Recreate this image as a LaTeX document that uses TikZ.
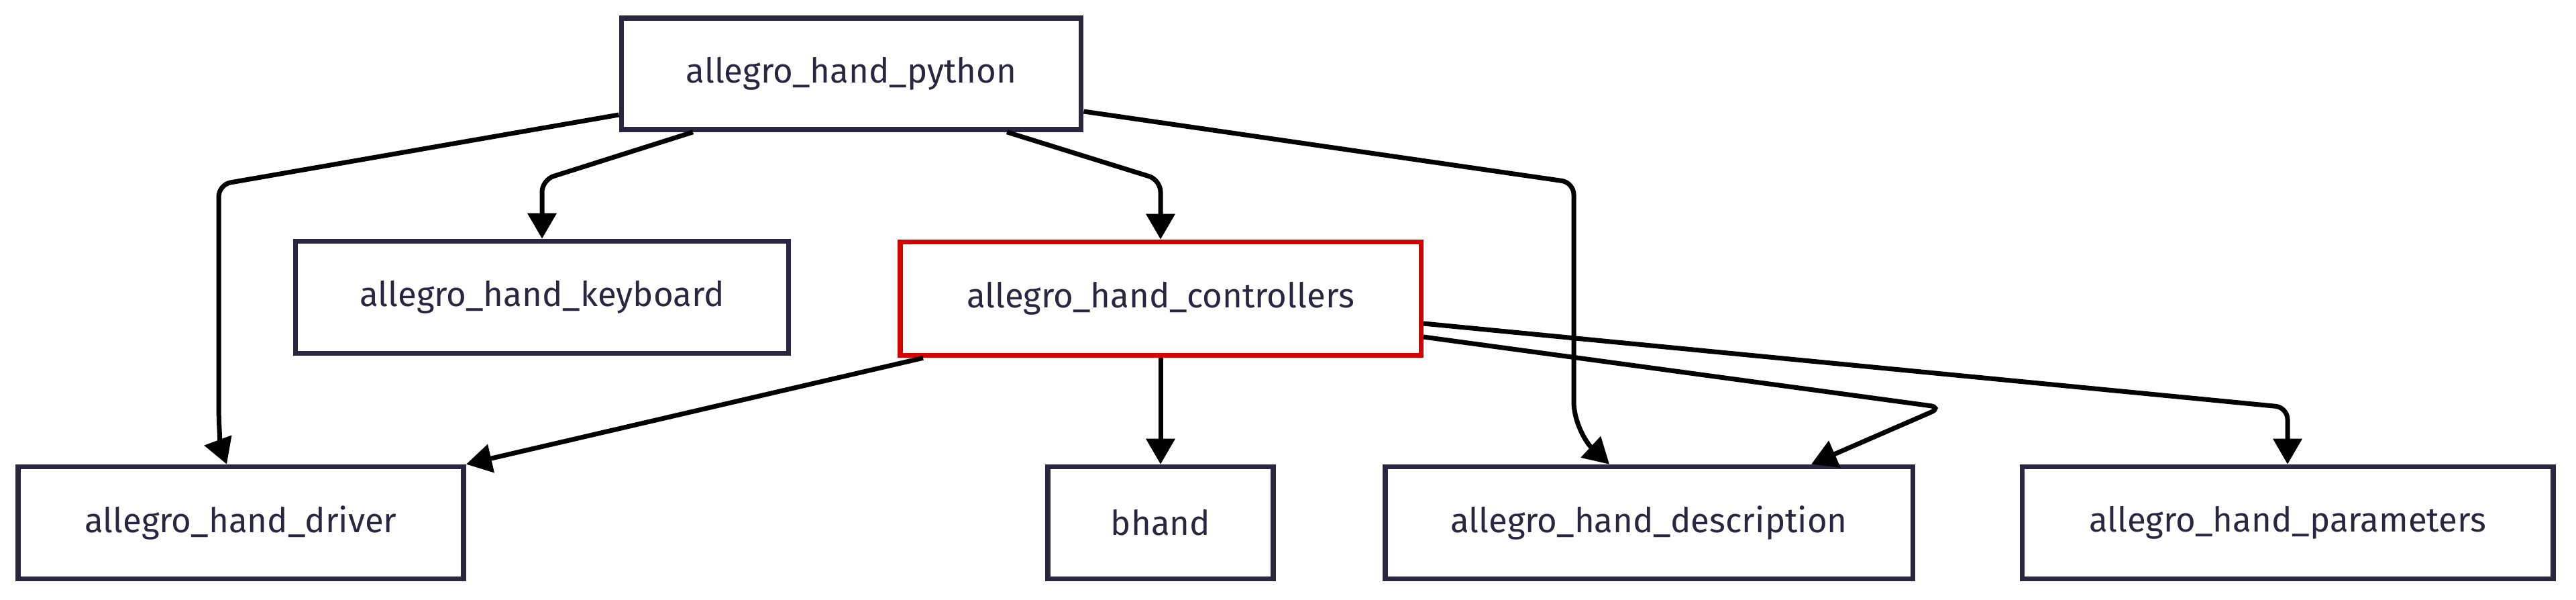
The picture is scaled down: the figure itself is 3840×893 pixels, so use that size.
\documentclass[tikz,border=0pt]{standalone}
\usepackage{fontspec}
\setmainfont{Fira Sans}
\usetikzlibrary{arrows.meta,calc}
\definecolor{ink}{RGB}{42,38,64}
\definecolor{hl}{RGB}{214,0,0}
\begin{document}
\begin{tikzpicture}[x=0.01cm,y=-0.01cm,
 box/.style={draw=ink, line width=0.075cm, fill=white, text=ink, minimum height=1.67cm, inner sep=0pt, font=\fontsize{14.5}{16}\selectfont},
 hlbox/.style={box, draw=hl},
 arr/.style={draw=black, line width=0.07cm, rounded corners=0.18cm, -{Triangle[length=0.38cm,width=0.42cm]}},
]
\useasboundingbox[fill=white] (0,0) rectangle (3840,893);
\node[box, minimum width=6.85cm, minimum height=1.66cm] (python) at (1269,110) {allegro\_hand\_python};
\node[box, minimum width=7.35cm] (keyboard) at (808,443) {allegro\_hand\_keyboard};
\node[hlbox, minimum width=7.76cm, minimum height=1.69cm] (controllers) at (1730,445) {allegro\_hand\_controllers};
\node[box, minimum width=6.64cm] (driver) at (359,779) {allegro\_hand\_driver};
\node[box, minimum width=3.36cm] (bhand) at (1730,779) {bhand};
\node[box, minimum width=7.86cm] (description) at (2458,779) {allegro\_hand\_description};
\node[box, minimum width=7.91cm] (parameters) at (3410,779) {allegro\_hand\_parameters};

\draw[arr] ($(python.west)+(0,61)$) -- (326,275) -- (326,585) .. controls (326,640) and (330,670) .. ($(driver.north)+(-21,0)$);
\draw[arr] ($(python.south)+(-236,0)$) -- (808,268) -- (keyboard.north);
\draw[arr] ($(python.south)+(232,0)$) -- (1730,268) -- (controllers.north);
\draw[arr] ($(python.east)+(0,56)$) -- (2346,272) -- (2346,580) .. controls (2346,630) and (2365,660) .. ($(description.north)+(-59,0)$);
\draw[arr] ($(controllers.south)+(-354,0)$) -- (driver.north east);
\draw[arr] (controllers.south) -- (bhand.north);
\draw[arr] ($(controllers.east)+(0,57)$) -- (2895,607) -- ($(description.north)+(242,0)$);
\draw[arr] ($(controllers.east)+(0,37)$) -- (3410,607) -- (parameters.north);
\end{tikzpicture}
\end{document}
